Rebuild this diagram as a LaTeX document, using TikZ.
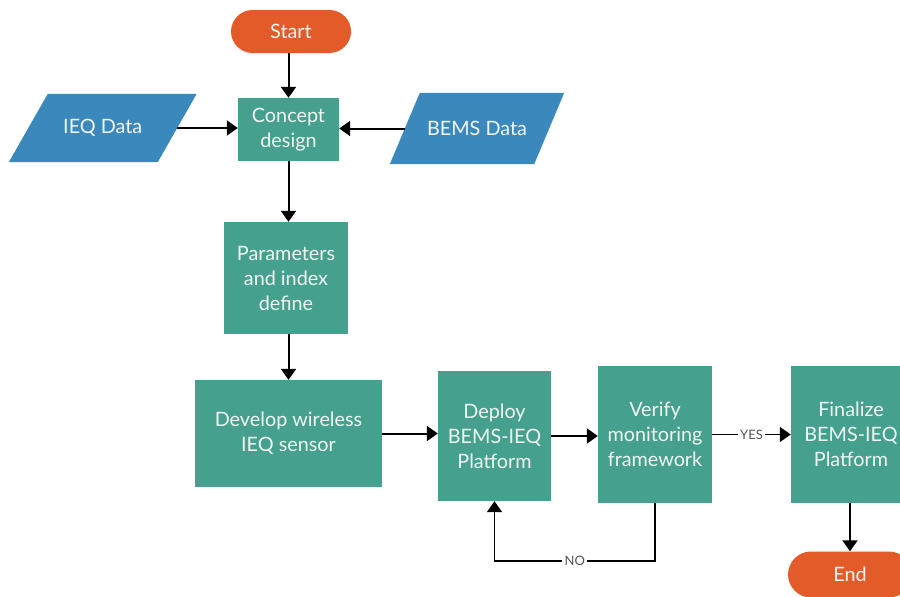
\documentclass[tikz,border=0pt]{standalone}
\usepackage{fontspec}
\setmainfont{Lato}
\usetikzlibrary{arrows.meta,backgrounds}
\definecolor{tealbox}{HTML}{45A08D}
\definecolor{bluepar}{HTML}{3B88BC}
\definecolor{orangepill}{HTML}{E45B2A}
\definecolor{boxtext}{HTML}{F1F6F3}
\definecolor{lbl}{HTML}{555555}
\tikzset{
  proc/.style={fill=tealbox, text=boxtext, align=center, inner sep=0pt,
    font=\fontsize{19.8}{25}\selectfont},
  pill/.style={fill=orangepill, text=boxtext, inner sep=0pt,
    font=\fontsize{19.8}{25}\selectfont},
  datatext/.style={text=boxtext, inner sep=0pt, font=\fontsize{19.8}{25}\selectfont},
  conn/.style={line width=2pt, -{Triangle[length=11pt,width=15pt]}},
  thinconn/.style={line width=1.6pt, draw=black, -{Triangle[length=11pt,width=15pt]}},
  smalllbl/.style={fill=white, text=lbl, inner sep=2.5pt, font=\fontsize{13}{15}\selectfont}
}
\begin{document}
\begin{tikzpicture}[x=1pt,y=-1pt]
\useasboundingbox (0,0) rectangle (900,597);
\clip (0,0) rectangle (900,597);

% nodes
\node[pill, rounded corners=21.5pt, minimum width=120pt, minimum height=43pt] (start) at (291,31.5) {Start};
\node[proc, minimum width=101pt, minimum height=63pt] (concept) at (288.5,129.5) {Concept\\design};
\node[datatext, minimum width=148.5pt, minimum height=68pt] (ieq) at (102.75,128) {IEQ Data};
\node[datatext, minimum width=144pt, minimum height=71pt] (bems) at (477,128.5) {BEMS Data};
\node[proc, minimum width=124pt, minimum height=112pt] (params) at (286,278) {Parameters\\and index\\define};
\node[proc, minimum width=187pt, minimum height=107pt] (develop) at (288.5,433.5) {Develop wireless\\IEQ sensor};
\node[proc, minimum width=113pt, minimum height=130pt] (deploy) at (494.5,436) {Deploy\\BEMS-IEQ\\Platform};
\node[proc, minimum width=114pt, minimum height=137pt] (verify) at (655,434.5) {Verify\\monitoring\\framework};
\node[proc, minimum width=120pt, minimum height=137pt] (final) at (851,434.5) {Finalize\\BEMS-IEQ\\Platform};
\node[pill, rounded corners=23pt, minimum width=124pt, minimum height=46pt] (end) at (850,574.5) {End};
\coordinate (noy) at (0,561);

% background and parallelogram bodies
\begin{scope}[on background layer]
\fill[white] (0,0) rectangle (900,597);
\fill[bluepar] ([xshift=19.5pt]ieq.north west) -- ([xshift=19.5pt]ieq.north east)
  -- ([xshift=-19.5pt]ieq.south east) -- ([xshift=-19.5pt]ieq.south west) -- cycle;
\fill[bluepar] ([xshift=15pt]bems.north west) -- ([xshift=15pt]bems.north east)
  -- ([xshift=-15pt]bems.south east) -- ([xshift=-15pt]bems.south west) -- cycle;
\end{scope}

% connectors
\draw[conn] (start.south -| concept.north) -- (concept.north);
\draw[conn] (ieq.east) -- (ieq.east -| concept.west);
\draw[conn] (bems.west) -- (bems.west -| concept.east);
\draw[conn] (concept.south) -- (concept.south |- params.north);
\draw[conn] (params.south -| concept.south) -- (concept.south |- develop.north);
\draw[conn] (develop.east) -- (develop.east -| deploy.west);
\draw[conn] (deploy.east) -- (deploy.east -| verify.west);
\draw[thinconn] (verify.east) -- node[smalllbl] {YES} (verify.east -| final.west);
\draw[conn] (final.south -| end.north) -- (end.north);
\draw[thinconn] (verify.south) -- (verify.south |- noy) -- node[smalllbl] {NO} (deploy.south |- noy) -- (deploy.south);
\end{tikzpicture}
\end{document}
